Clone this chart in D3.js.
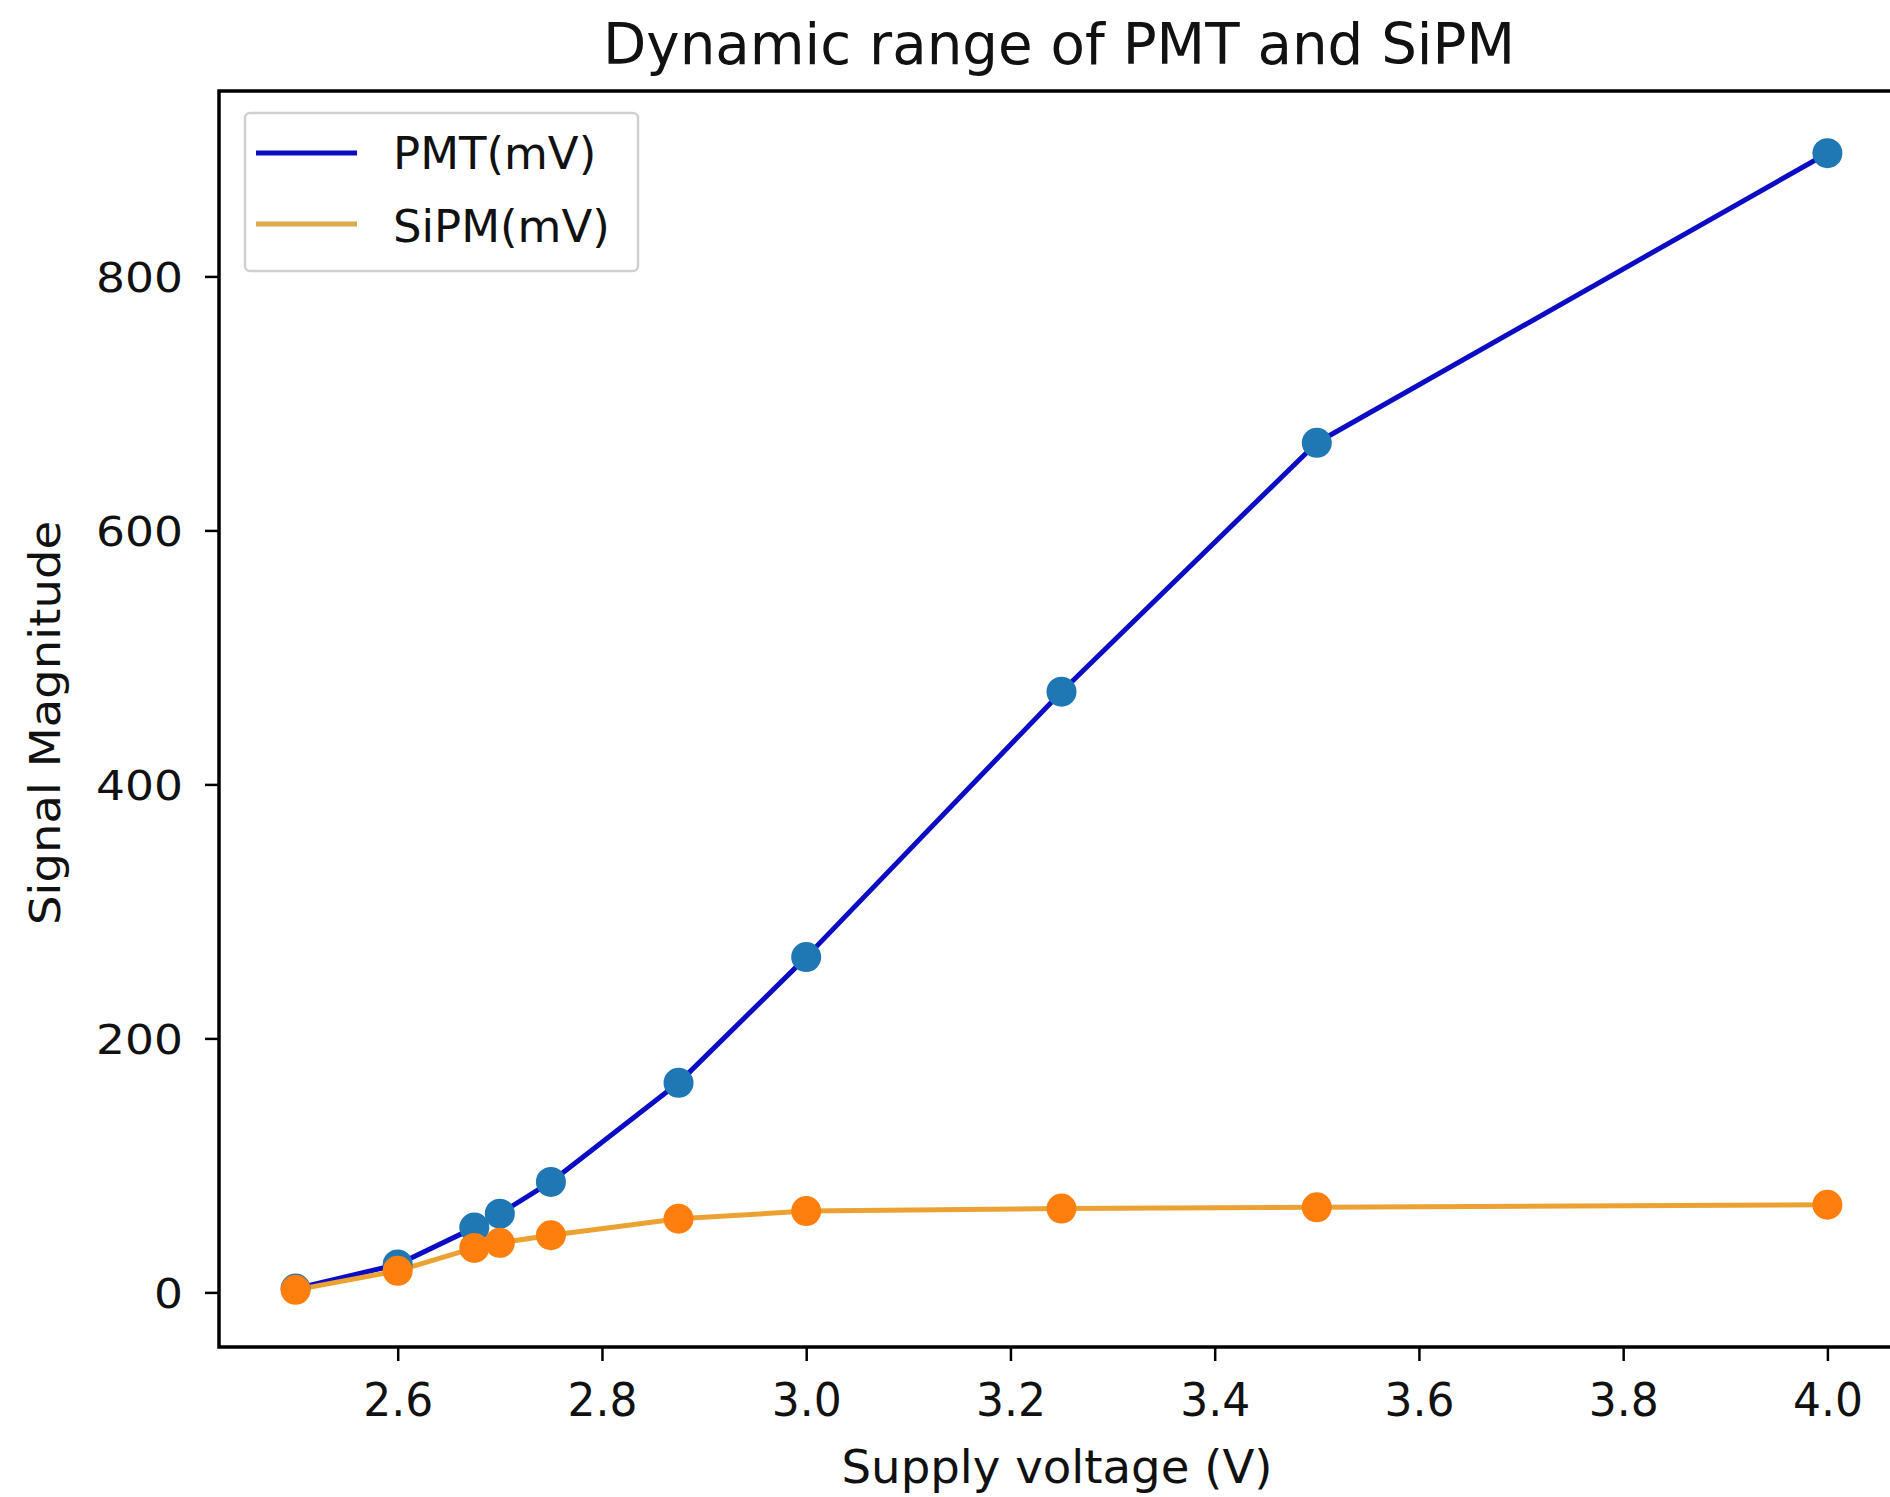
<!DOCTYPE html>
<html>
<head>
<meta charset="utf-8">
<script src="https://cdn.jsdelivr.net/npm/d3@7"></script>
<style>
  html, body { margin: 0; padding: 0; background: #fff; }
  svg { display: block; }
  text { font-family: "DejaVu Sans", sans-serif; fill: #111; }
</style>
</head>
<body>
<svg id="chart" width="1890" height="1497"></svg>
<script>
// ---- data ----
const voltage = [2.5, 2.6, 2.675, 2.7, 2.75, 2.875, 3.0, 3.25, 3.5, 4.0];
const pmtMV   = [3, 22, 51, 62, 87, 165, 264, 473, 669, 897];
const sipmMV  = [2, 17, 35, 39, 45, 58, 64, 66, 67, 69];
const xTickValues = [2.6, 2.8, 3.0, 3.2, 3.4, 3.6, 3.8, 4.0];
const yTickValues = [0, 200, 400, 600, 800];
const seriesNames = ["PMT(mV)", "SiPM(mV)"];
const titleText = "Dynamic range of PMT and SiPM";
const xLabelText = "Supply voltage (V)";
const yLabelText = "Signal Magnitude";

// ---- layout ----
const W = 1890, H = 1497;
const plot = { left: 219, right: 1904, top: 91, bottom: 1347 };
const svg = d3.select("#chart");
svg.append("rect").attr("width", W).attr("height", H).attr("fill", "#fff");

const x = d3.scaleLinear().domain([2.425, 4.075]).range([plot.left, plot.right]);
const y = d3.scaleLinear().domain([-43, 946]).range([plot.bottom, plot.top]);

const pmtLine = "#0c0cc4", sipmLine = "#eca232";
const pmtDot = "#1f77b4", sipmDot = "#ff7f0e";

// lines
const lineGen = d3.line().x(d => x(d[0])).y(d => y(d[1]));
const pmtPts = voltage.map((v, i) => [v, pmtMV[i]]);
const sipmPts = voltage.map((v, i) => [v, sipmMV[i]]);

svg.append("path").attr("d", lineGen(pmtPts)).attr("fill", "none")
  .attr("stroke", pmtLine).attr("stroke-width", 5).attr("stroke-linejoin", "round");
svg.append("path").attr("d", lineGen(sipmPts)).attr("fill", "none")
  .attr("stroke", sipmLine).attr("stroke-width", 5).attr("stroke-linejoin", "round");

svg.append("g").selectAll("circle").data(pmtPts).join("circle")
  .attr("cx", d => x(d[0])).attr("cy", d => y(d[1])).attr("r", 15).attr("fill", pmtDot);
svg.append("g").selectAll("circle").data(sipmPts).join("circle")
  .attr("cx", d => x(d[0])).attr("cy", d => y(d[1])).attr("r", 15).attr("fill", sipmDot);

// axes
const xAxis = d3.axisBottom(x).tickValues(xTickValues).tickFormat(d3.format(".1f"))
  .tickSize(14).tickPadding(10);
const gx = svg.append("g").attr("transform", `translate(0,${plot.bottom})`).call(xAxis);
gx.select(".domain").remove();
gx.selectAll(".tick line").attr("stroke", "#000").attr("stroke-width", 2.5);
gx.selectAll(".tick text").attr("font-size", 46).attr("fill", "#111")
  .attr("font-family", "DejaVu Sans").attr("y", 36).attr("dy", "0.71em")
  .attr("textLength", 70).attr("lengthAdjust", "spacingAndGlyphs");

const yAxis = d3.axisLeft(y).tickValues(yTickValues).tickFormat(d3.format("d"))
  .tickSize(14).tickPadding(22);
const gy = svg.append("g").attr("transform", `translate(${plot.left},0)`).call(yAxis);
gy.select(".domain").remove();
gy.selectAll(".tick line").attr("stroke", "#000").attr("stroke-width", 2.5);
gy.selectAll(".tick text").attr("font-size", 41).attr("fill", "#111")
  .attr("font-family", "DejaVu Sans").attr("x", -36).attr("dy", "0.36em")
  .each(function(d) {
    const s = String(d);
    d3.select(this).attr("textLength", s.length * 29).attr("lengthAdjust", "spacingAndGlyphs");
  });

// spines (right spine falls outside the canvas)
svg.append("rect").attr("x", plot.left).attr("y", plot.top)
  .attr("width", plot.right - plot.left).attr("height", plot.bottom - plot.top)
  .attr("fill", "none").attr("stroke", "#000").attr("stroke-width", 3.5);

// title and labels
svg.append("text").attr("x", 1059).attr("y", 64).attr("text-anchor", "middle")
  .attr("font-size", 57).attr("textLength", 912).attr("lengthAdjust", "spacingAndGlyphs")
  .text(titleText);
svg.append("text").attr("x", 1057).attr("y", 1483).attr("text-anchor", "middle")
  .attr("font-size", 47).attr("textLength", 431).attr("lengthAdjust", "spacingAndGlyphs")
  .text(xLabelText);
svg.append("text").attr("transform", "translate(60,723) rotate(-90)").attr("text-anchor", "middle")
  .attr("font-size", 43).attr("textLength", 404).attr("lengthAdjust", "spacingAndGlyphs")
  .text(yLabelText);

// legend
const lg = svg.append("g");
lg.append("rect").attr("x", 245).attr("y", 113).attr("width", 393).attr("height", 158)
  .attr("rx", 5).attr("fill", "#fff").attr("fill-opacity", 0.8)
  .attr("stroke", "#d0d0d0").attr("stroke-width", 2.5);
const legendRows = [
  { name: seriesNames[0], color: pmtLine, ly: 153, ty: 169 },
  { name: seriesNames[1], color: "#dcaa4c", ly: 224, ty: 242 }
];
legendRows.forEach(r => {
  lg.append("line").attr("x1", 256).attr("x2", 357).attr("y1", r.ly).attr("y2", r.ly)
    .attr("stroke", r.color).attr("stroke-width", 5);
  lg.append("text").attr("x", 393).attr("y", r.ty).attr("font-size", 45).text(r.name);
});
</script>
</body>
</html>
